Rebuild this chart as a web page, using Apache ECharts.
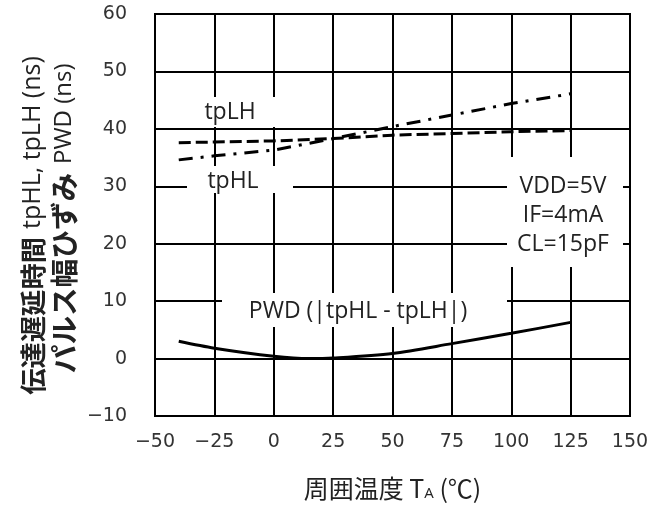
<!DOCTYPE html>
<html>
<head>
<meta charset="utf-8">
<script src="https://cdn.jsdelivr.net/npm/echarts@6/dist/echarts.min.js"></script>
<style>
  body { margin: 0; background: #fff; }
  #chart { width: 666px; height: 506px; }
</style>
</head>
<body>
<div id="chart"></div>
<script>
// values
const tempsDelay = [-40, -25, 0, 25, 50, 75, 100, 125]
const tpLH = [37.6, 37.7, 37.9, 38.3, 38.9, 39.2, 39.5, 39.7]
const tpHL = [34.6, 35.3, 36.3, 38.3, 40.4, 42.4, 44.4, 46.1]
const tempsPwd = [-40, -25, 0, 15, 25, 50, 75, 100, 125]
const pwd = [3.0, 1.8, 0.4, 0, 0.1, 0.9, 2.6, 4.4, 6.3]
const conditions = ['VDD=5V', 'IF=4mA', 'CL=15pF']

const pairs = (xs, ys) => xs.map((x, i) => [x, ys[i]])
const minus = v => String(v).replace('-', '\u2212')

const latin = '"Open Sans", "Noto Sans", sans-serif'
const cjk = '"Noto Sans CJK JP", sans-serif'
const tick = 'DejaVu Sans, sans-serif'

// font size that makes a text span a given length
const ctx = document.createElement('canvas').getContext('2d')
const fit = (text, family, weight, len) => {
  ctx.font = weight + ' 100px ' + family
  return Math.round(1000 * len / ctx.measureText(text).width) / 10
}

const myChart = echarts.init(document.getElementById('chart'))

const box = (x, y, w, h) => ({
  type: 'rect', z: 1,
  shape: { x, y, width: w, height: h },
  style: { fill: '#fff' }
})
const label = (text, x, y) => ({
  type: 'text', z: 1, x, y,
  style: { text, fill: '#222', fontSize: 23, fontFamily: latin, align: 'center', verticalAlign: 'middle' }
})
// rotated y title piece; 'right' grows downward, 'left' grows upward
const vText = (text, x, y, align, size, family, weight) => ({
  type: 'text', x, y, rotation: Math.PI / 2,
  style: {
    text, fill: '#222', fontSize: size,
    fontFamily: family, fontWeight: weight, align, verticalAlign: 'middle'
  }
})

myChart.setOption({
  animation: false,
  grid: { left: 155, right: 36, top: 14, bottom: 90, show: true, borderColor: '#000', borderWidth: 2 },
  xAxis: {
    type: 'value', min: -50, max: 150, interval: 25,
    axisLine: { lineStyle: { color: '#000', width: 2 } },
    axisTick: { show: false },
    splitLine: { lineStyle: { color: '#000', width: 2 } },
    axisLabel: { color: '#333', fontSize: 19, fontFamily: tick, margin: 17, formatter: minus },
    name: '周囲温度 T{sub|A} (℃)',
    nameLocation: 'middle',
    nameGap: 60,
    nameTextStyle: {
      color: '#222', fontSize: 25, fontFamily: cjk,
      rich: { sub: { fontSize: 15, fontFamily: latin, color: '#222', verticalAlign: 'bottom', padding: [9, 0, 0, 0] } }
    }
  },
  yAxis: {
    type: 'value', min: -10, max: 60, interval: 10,
    axisLine: { lineStyle: { color: '#000', width: 2 } },
    axisTick: { show: false },
    splitLine: { lineStyle: { color: '#000', width: 2 } },
    axisLabel: { color: '#333', fontSize: 19, fontFamily: tick, margin: 28, formatter: minus }
  },
  graphic: [
    vText('伝達遅延時間', 33, 237, 'right', fit('伝達遅延時間', cjk, 'bold', 158), cjk, 'bold'),
    vText('tpHL, tpLH (ns)', 33, 229, 'left', 25, latin, 'normal'),
    vText('パルス幅ひずみ', 64, 173, 'right', fit('パルス幅ひずみ', cjk, 'bold', 200), cjk, 'bold'),
    vText('PWD (ns)', 64, 164, 'left', 24, latin, 'normal'),
    box(195, 97, 90, 30),
    label('tpLH', 230, 112),
    box(187, 166, 106, 27),
    label('tpHL', 233, 181),
    box(507, 157, 116, 110),
    label(conditions[0], 563, 186),
    label(conditions[1], 563, 215),
    label(conditions[2], 563, 244),
    box(222, 293, 285, 34),
    label('PWD (|tpHL - tpLH|)', 358, 311)
  ],
  series: [
    {
      name: 'tpLH', type: 'line', data: pairs(tempsDelay, tpLH),
      symbol: 'none', z: 3,
      lineStyle: { color: '#000', width: 3, type: [12, 5] }
    },
    {
      name: 'tpHL', type: 'line', data: pairs(tempsDelay, tpHL),
      symbol: 'none', z: 3,
      lineStyle: { color: '#000', width: 3, type: [14, 8, 3, 8] }
    },
    {
      name: 'PWD', type: 'line', data: pairs(tempsPwd, pwd),
      symbol: 'none', smooth: 0.3, z: 3,
      lineStyle: { color: '#000', width: 3 }
    }
  ]
})
</script>
</body>
</html>
